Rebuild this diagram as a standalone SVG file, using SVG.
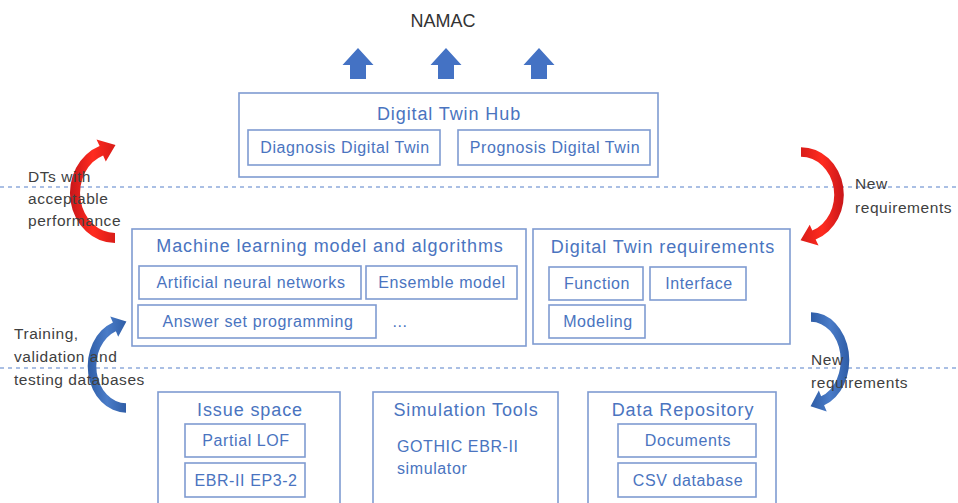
<svg xmlns="http://www.w3.org/2000/svg" width="958" height="503" viewBox="0 0 958 503">
<style>
.box{fill:none;stroke:#7f9bd1;stroke-width:1.6}
.t{font-family:"Liberation Sans",Arial,sans-serif;fill:#4a74c0;text-anchor:middle}
.h{font-size:18px;letter-spacing:0.9px}
.s{font-size:16px;letter-spacing:0.6px}
.lbl{font-family:"Liberation Sans",Arial,sans-serif;fill:#404040;font-size:15.5px;letter-spacing:0.55px}
.dash{stroke:#8eaadb;stroke-width:1.3;stroke-dasharray:4 4}
.up{fill:#4472c4}
</style>
<defs>
<linearGradient id="red" x1="0" y1="0" x2="1" y2="0"><stop offset="0" stop-color="#c8161a"/><stop offset="0.5" stop-color="#ff2b1f"/><stop offset="1" stop-color="#d81c18"/></linearGradient>
<linearGradient id="blue" x1="0" y1="0" x2="1" y2="0"><stop offset="0" stop-color="#2f5da6"/><stop offset="0.5" stop-color="#4a7cc8"/><stop offset="1" stop-color="#2f5da6"/></linearGradient>
<path id="curved" d="M0,5 A45 50 0 0 1 -15.4,-92 L-18.5,-98.5 L0.5,-93 L-9.2,-76.5 L-11.9,-82.6 A35 40 0 0 0 0,-5 Z"/>
<path id="uparrow" d="M0,0 L15.5,17 L8,17 L8,31 L-8,31 L-8,17 L-15.5,17 Z"/>
</defs>
<rect width="958" height="503" fill="#ffffff"/>

<g id="separators">
<line class="dash" x1="0" y1="187" x2="958" y2="187"/>
<line class="dash" x1="0" y1="368" x2="958" y2="368"/>
</g>

<g id="namac">
<text x="443" y="27" text-anchor="middle" style="font-family:'Liberation Sans',Arial,sans-serif;font-size:18px;fill:#333">NAMAC</text>
</g>

<g id="connectors">
<use href="#uparrow" class="up" x="358" y="48"/>
<use href="#uparrow" class="up" x="446" y="48"/>
<use href="#uparrow" class="up" x="539" y="48"/>
<use href="#curved" fill="url(#red)" transform="translate(115,238)"/>
<use href="#curved" fill="url(#red)" transform="translate(801,152) rotate(180) scale(0.95)"/>
<use href="#curved" fill="url(#blue)" transform="translate(126,408) scale(0.85,0.93)"/>
<use href="#curved" fill="url(#blue)" transform="translate(811,317) rotate(180) scale(0.85,0.96)"/>
</g>

<g id="labels">
<text class="lbl" x="28" y="182">DTs with</text>
<text class="lbl" x="28" y="204">acceptable</text>
<text class="lbl" x="28" y="226">performance</text>
<text class="lbl" x="855" y="189">New</text>
<text class="lbl" x="855" y="213">requirements</text>
<text class="lbl" x="14" y="339">Training,</text>
<text class="lbl" x="14" y="362">validation and</text>
<text class="lbl" x="14" y="385">testing databases</text>
<text class="lbl" x="811" y="365">New</text>
<text class="lbl" x="811" y="388">requirements</text>
</g>

<g id="digital-twin-hub">
<rect class="box" x="239" y="93" width="419" height="84"/>
<text class="t h" x="449" y="120">Digital Twin Hub</text>
<rect class="box" x="248" y="130" width="192" height="35"/>
<text class="t s" x="345" y="153">Diagnosis Digital Twin</text>
<rect class="box" x="458" y="130" width="192" height="35"/>
<text class="t s" x="555" y="153">Prognosis Digital Twin</text>
</g>

<g id="ml-models">
<rect class="box" x="132" y="229" width="394" height="117"/>
<text class="t h" x="330" y="252">Machine learning model and algorithms</text>
<rect class="box" x="139" y="266" width="222" height="33"/>
<text class="t s" x="251" y="288">Artificial neural networks</text>
<rect class="box" x="366" y="266" width="151" height="33"/>
<text class="t s" x="442" y="288">Ensemble model</text>
<rect class="box" x="138" y="305" width="238" height="33"/>
<text class="t s" x="258" y="327">Answer set programming</text>
<text class="t s" x="400" y="327">...</text>
</g>

<g id="dt-requirements">
<rect class="box" x="533" y="229" width="257" height="115"/>
<text class="t h" x="663" y="253">Digital Twin requirements</text>
<rect class="box" x="549" y="267" width="94" height="33"/>
<text class="t s" x="597" y="289">Function</text>
<rect class="box" x="650" y="267" width="96" height="33"/>
<text class="t s" x="699" y="289">Interface</text>
<rect class="box" x="549" y="305" width="96" height="33"/>
<text class="t s" x="598" y="327">Modeling</text>
</g>

<g id="issue-space">
<rect class="box" x="158" y="392" width="182" height="120"/>
<text class="t h" x="250" y="416">Issue space</text>
<rect class="box" x="185" y="424" width="120" height="33"/>
<text class="t s" x="246" y="446">Partial LOF</text>
<rect class="box" x="185" y="463" width="120" height="34"/>
<text class="t s" x="246" y="486">EBR-II EP3-2</text>
</g>

<g id="simulation-tools">
<rect class="box" x="373" y="392" width="185" height="120"/>
<text class="t h" x="466" y="416">Simulation Tools</text>
<text class="t s" x="397" y="452" style="text-anchor:start">GOTHIC EBR-II</text>
<text class="t s" x="397" y="474" style="text-anchor:start">simulator</text>
</g>

<g id="data-repository">
<rect class="box" x="588" y="392" width="188" height="120"/>
<text class="t h" x="683" y="416">Data Repository</text>
<rect class="box" x="618" y="424" width="138" height="33"/>
<text class="t s" x="688" y="446">Documents</text>
<rect class="box" x="618" y="463" width="138" height="34"/>
<text class="t s" x="688" y="486">CSV database</text>
</g>
</svg>
